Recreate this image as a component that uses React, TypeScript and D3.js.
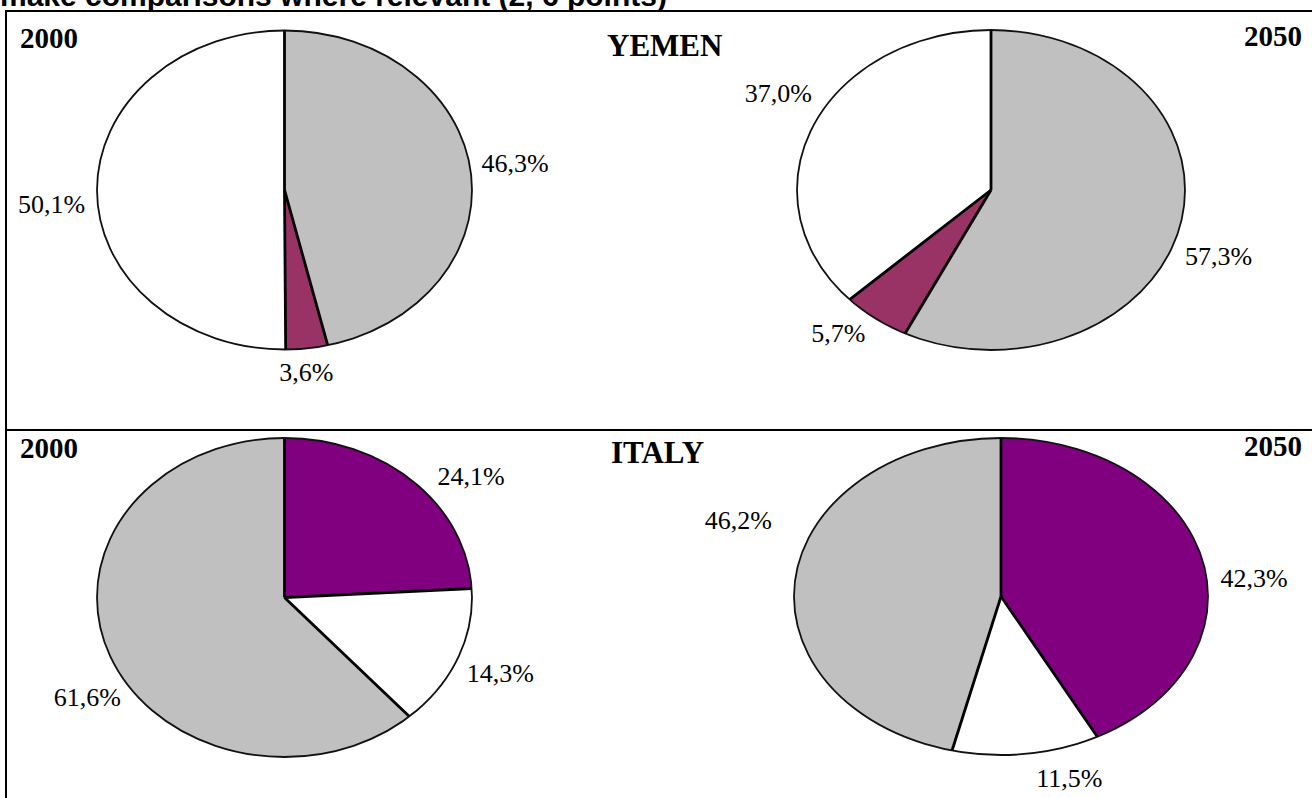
import React from "react";
import * as d3 from "d3";

// Population shares by age group, 2000 vs 2050
const yemen2000Labels = ["46,3%", "3,6%", "50,1%"];
const yemen2000Values = [46.3, 3.6, 50.1];
const yemen2050Labels = ["57,3%", "5,7%", "37,0%"];
const yemen2050Values = [57.3, 5.7, 37.0];
const italy2000Labels = ["24,1%", "14,3%", "61,6%"];
const italy2000Values = [24.1, 14.3, 61.6];
const italy2050Labels = ["42,3%", "11,5%", "46,2%"];
const italy2050Values = [42.3, 11.5, 46.2];

const yemenColors = ["#c0c0c0", "#993366", "#ffffff"];
const italy2000Colors = ["#800080", "#ffffff", "#c0c0c0"];
const italy2050Colors = ["#800080", "#ffffff", "#c0c0c0"];

const countries = ["YEMEN", "ITALY"];
const years = ["2000", "2050"];

type PieSpec = {
  values: number[];
  labels: string[];
  colors: string[];
  cx: number;
  cy: number;
  rx: number;
  ry: number;
  nudges: [number, number][];
};

const pies: PieSpec[] = [
  { values: yemen2000Values, labels: yemen2000Labels, colors: yemenColors, cx: 284.5, cy: 190, rx: 187.5, ry: 159.5,
    nudges: [[7, -5], [-5, -8], [-8, 13]] },
  { values: yemen2050Values, labels: yemen2050Labels, colors: yemenColors, cx: 991, cy: 190, rx: 194, ry: 160,
    nudges: [[1, 22], [-14, -11], [1, -21]] },
  { values: italy2000Values, labels: italy2000Labels, colors: italy2000Colors, cx: 284.5, cy: 597.5, rx: 187.5, ry: 159.5,
    nudges: [[32, 18], [8, 2], [13, 31]] },
  { values: italy2050Values, labels: italy2050Labels, colors: italy2050Colors, cx: 1001, cy: 596.5, rx: 207, ry: 158.5,
    nudges: [[12, 27], [38, -7], [-16, -54]] },
];

const W = 1312;
const H = 798;
const SERIF = "'Liberation Serif', 'Times New Roman', serif";
const SANS = "'Liberation Sans', Arial, sans-serif";

function Pie({ spec }: { spec: PieSpec }) {
  const pie = d3.pie<number>().sort(null).value((d) => d);
  const arcs = pie(spec.values);
  const arc = d3.arc<d3.PieArcDatum<number>>().innerRadius(0).outerRadius(1);
  const { cx, cy, rx, ry } = spec;
  const onEllipse = (a: number, f: number): [number, number] => [
    cx + f * rx * Math.sin(a),
    cy - f * ry * Math.cos(a),
  ];
  return (
    <g>
      <g transform={`translate(${cx},${cy}) scale(${rx},${ry})`}>
        {arcs.map((a, i) => (
          <path key={i} d={arc(a) || ""} fill={spec.colors[i]} stroke="none" />
        ))}
      </g>
      {arcs.map((a, i) => {
        const [x, y] = onEllipse(a.startAngle, 1);
        return <line key={"r" + i} x1={cx} y1={cy} x2={x} y2={y} stroke="#000" strokeWidth={2.8} />;
      })}
      <ellipse cx={cx} cy={cy} rx={rx} ry={ry} fill="none" stroke="#111" strokeWidth={1.8} />
      {arcs.map((a, i) => {
        const mid = (a.startAngle + a.endAngle) / 2;
        const [x, y] = onEllipse(mid, 1.2);
        const [dx, dy] = spec.nudges[i];
        return (
          <text key={"t" + i} x={x + dx} y={y + dy} dy="0.35em" textAnchor="middle"
            fontFamily={SERIF} fontSize={26} fill="#000">
            {spec.labels[i]}
          </text>
        );
      })}
    </g>
  );
}

export default function App() {
  const rowTops = [11, 430];
  return (
    <svg width={W} height={H} style={{ position: "absolute", left: 0, top: 0, background: "#fff" }}>
      <rect x={0} y={0} width={W} height={H} fill="#fff" />
      <text x={0} y={5.5} fontFamily={SANS} fontWeight="bold" fontSize={30} fill="#000">
        make comparisons where relevant (2, 6 points)
      </text>
      {/* table rules */}
      <line x1={5} x2={W} y1={rowTops[0]} y2={rowTops[0]} stroke="#000" strokeWidth={2} />
      <line x1={5} x2={W} y1={rowTops[1]} y2={rowTops[1]} stroke="#000" strokeWidth={2} />
      <line x1={6} x2={6} y1={10} y2={H} stroke="#000" strokeWidth={2} />
      {pies.map((p, i) => (
        <Pie key={i} spec={p} />
      ))}
      {countries.map((c, i) => {
        const top = rowTops[i];
        return (
          <g key={c} fontFamily={SERIF} fontWeight="bold" fill="#000">
            <text x={20} y={top + (i === 0 ? 37 : 28)} fontSize={29}>{years[0]}</text>
            <text x={i === 0 ? 607 : 611} y={top + (i === 0 ? 45 : 33)} fontSize={31}>{c}</text>
            <text x={1302} y={top + (i === 0 ? 35 : 26)} fontSize={29} textAnchor="end">{years[1]}</text>
          </g>
        );
      })}
    </svg>
  );
}
